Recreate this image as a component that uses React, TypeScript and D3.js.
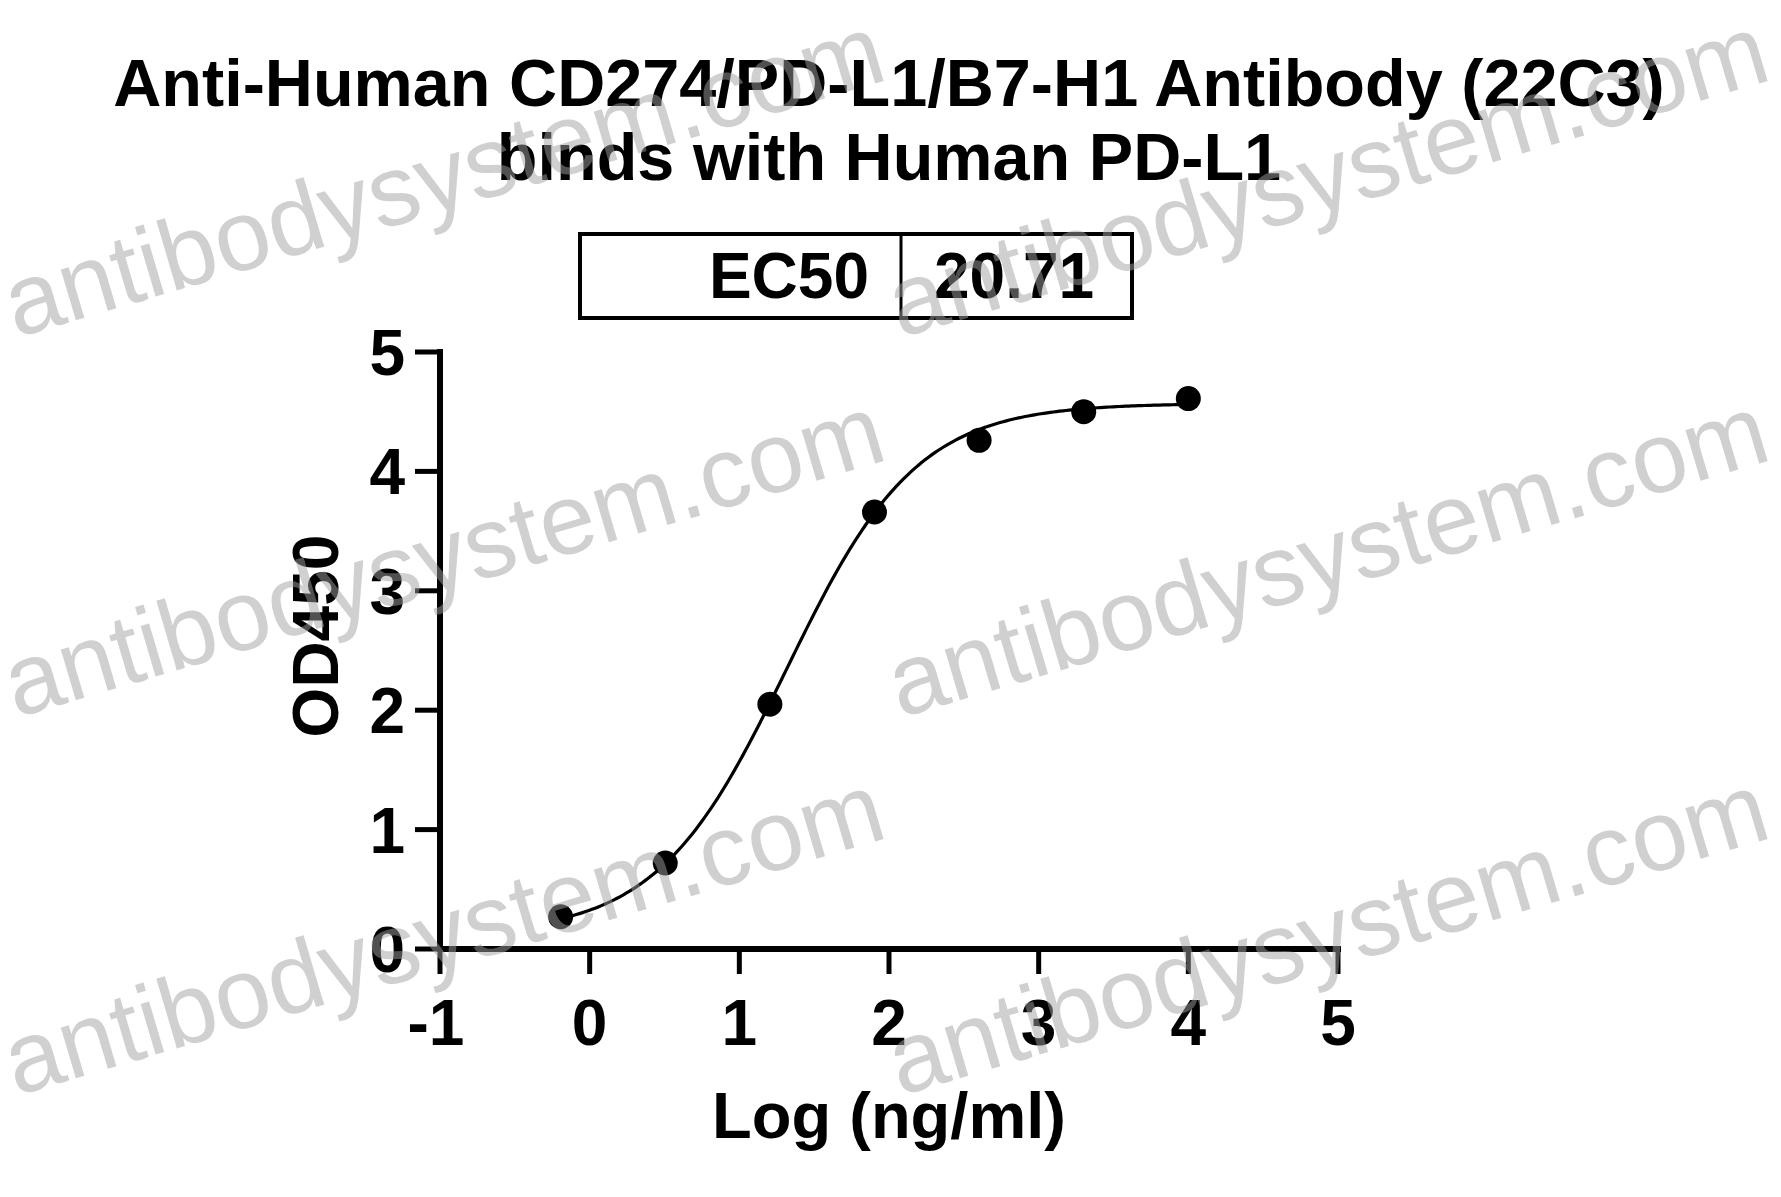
import React, { useEffect } from "react";
import * as d3 from "d3";

// ---- Data ----
const titleLines = ["Anti-Human CD274/PD-L1/B7-H1 Antibody (22C3)", "binds with Human PD-L1"];
const ec50Label = "EC50";
const ec50Value = "20.71";
const xLabel = "Log (ng/ml)";
const yLabel = "OD450";
const xTicks = [-1, 0, 1, 2, 3, 4, 5];
const yTicks = [0, 1, 2, 3, 4, 5];
const logConc = [-0.194, 0.505, 1.204, 1.903, 2.602, 3.301, 4.0];
const od450 = [0.27, 0.72, 2.05, 3.66, 4.26, 4.5, 4.61];
// 4PL fit parameters
const fitBottom = 0.12;
const fitTop = 4.57;
const fitLogEC50 = Math.log10(20.71);
const fitHill = 1.0;
const watermarkText = "antibodysystem.com";
const watermarkCols = [16, 900];
const watermarkRows = [338, 718, 1096];

const W = 1781;
const H = 1197;
const FONT = "'Liberation Sans', Arial, sans-serif";

export default function App() {
  useEffect(() => {
    document.body.style.margin = "0";
    document.body.style.overflow = "hidden";
  }, []);

  const x = d3.scaleLinear().domain([-1, 5]).range([440, 1338]);
  const y = d3.scaleLinear().domain([0, 5]).range([949, 352]);

  const fit = (t: number) => fitBottom + (fitTop - fitBottom) / (1 + Math.pow(10, (fitLogEC50 - t) * fitHill));
  const xs = d3.range(0, 201).map((i) => logConc[0] + (i / 200) * (logConc[logConc.length - 1] - logConc[0]));
  const line = d3
    .line<number>()
    .x((d) => x(d))
    .y((d) => y(fit(d)));

  const axisW = 6;
  const tickLen = 25;

  return (
    <svg width={W} height={H} style={{ display: "block", position: "absolute", left: 0, top: 0, background: "#fff" }}>
      <rect x={0} y={0} width={W} height={H} fill="#fff" />
      {/* Title */}
      <g fontFamily={FONT} fontWeight="bold" fill="#000" textAnchor="middle">
        <text x={889} y={106} fontSize={66.6}>{titleLines[0]}</text>
        <text x={889} y={180} fontSize={66.6}>{titleLines[1]}</text>
      </g>
      {/* EC50 box */}
      <g>
        <rect x={580} y={234} width={552} height={84} fill="none" stroke="#000" strokeWidth={4} />
        <line x1={901} x2={901} y1={234} y2={318} stroke="#000" strokeWidth={3} />
        <text x={869} y={298} fontSize={64} fontFamily={FONT} fontWeight="bold" textAnchor="end">{ec50Label}</text>
        <text x={934} y={298} fontSize={64} fontFamily={FONT} fontWeight="bold" textAnchor="start">{ec50Value}</text>
      </g>
      {/* Axes */}
      <g stroke="#000" strokeWidth={axisW} strokeLinecap="square">
        <line x1={x(-1)} x2={x(-1)} y1={y(5)} y2={y(0)} />
        <line x1={x(-1)} x2={x(5)} y1={y(0)} y2={y(0)} />
        {yTicks.map((t) => (
          <line key={"yt" + t} x1={x(-1) - tickLen} x2={x(-1)} y1={y(t)} y2={y(t)} strokeLinecap="butt" strokeWidth={5} />
        ))}
        {xTicks.map((t) => (
          <line key={"xt" + t} x1={x(t)} x2={x(t)} y1={y(0)} y2={y(0) + tickLen} strokeLinecap="butt" strokeWidth={5} />
        ))}
      </g>
      <g fontFamily={FONT} fontWeight="bold" fontSize={64} fill="#000">
        {yTicks.map((t) => (
          <text key={"yl" + t} x={405} y={y(t) + 23} textAnchor="end">{t}</text>
        ))}
        {xTicks.map((t) => (
          <text key={"xl" + t} x={x(t) - (t < 0 ? 4 : 0)} y={1045} textAnchor="middle">{t}</text>
        ))}
      </g>
      <text x={889} y={1138} fontSize={65} fontFamily={FONT} fontWeight="bold" textAnchor="middle">{xLabel}</text>
      <text transform="translate(338,636) rotate(-90)" fontSize={64} fontFamily={FONT} fontWeight="bold" textAnchor="middle">{yLabel}</text>
      {/* Curve and points */}
      <path d={line(xs) || ""} fill="none" stroke="#000" strokeWidth={3.2} />
      {logConc.map((c, i) => (
        <circle key={"p" + i} cx={x(c)} cy={y(od450[i])} r={12.5} fill="#000" />
      ))}
      {/* Watermarks */}
      <g fontFamily={FONT} fontSize={100} fill="#a0a0a0" opacity={0.5}>
        {watermarkRows.map((ry) =>
          watermarkCols.map((cx) => (
            <text key={"wm" + cx + "-" + ry} transform={`translate(${cx},${ry}) rotate(-16.5)`}>{watermarkText}</text>
          ))
        )}
      </g>
    </svg>
  );
}
